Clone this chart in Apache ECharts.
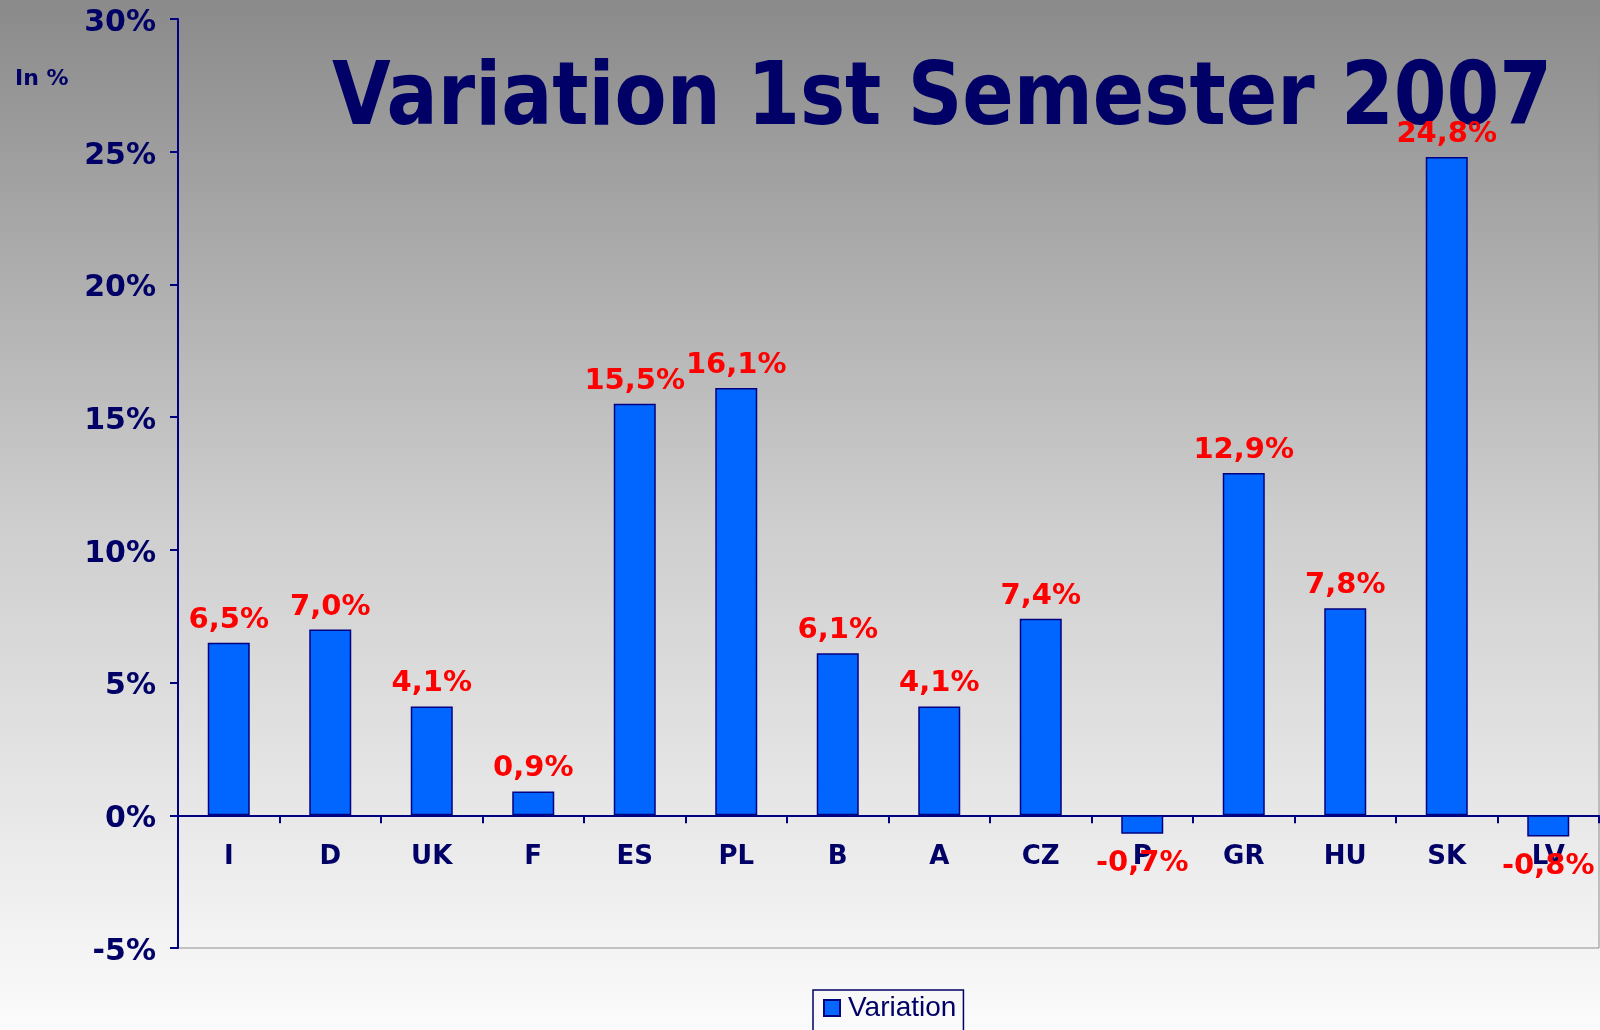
<!DOCTYPE html>
<html><head><meta charset="utf-8">
<script src="https://cdn.jsdelivr.net/npm/echarts@6/dist/echarts.min.js"></script>
<style>html,body{margin:0;padding:0;}#c{width:1600px;height:1030px;}</style>
</head><body><div id="c"></div>
<script>
const categories = ['I','D','UK','F','ES','PL','B','A','CZ','P','GR','HU','SK','LV'];
const variation = [6.5, 7.0, 4.1, 0.9, 15.5, 16.1, 6.1, 4.1, 7.4, -0.7, 12.9, 7.8, 24.8, -0.8];
const yTicks = [-5, 0, 5, 10, 15, 20, 25, 30];
const titleText = 'Variation 1st Semester 2007';
const unitText = 'In %';
const seriesName = 'Variation';

const NAVY = '#000066';
const GRID_TOP = 19, GRID_BOTTOM = 82, H = 1030;
const yMin = yTicks[0], yMax = yTicks[yTicks.length - 1];
// move the category axis up so it sits on the zero line
const zeroOffset = -(H - GRID_TOP - GRID_BOTTOM) * (0 - yMin) / (yMax - yMin);

const chart = echarts.init(document.getElementById('c'));
const fmt = v => v.toFixed(1).replace('.', ',') + '%';
chart.setOption({
  animation: false,
  backgroundColor: new echarts.graphic.LinearGradient(0, 0, 0, 1, [
    {offset: 0, color: '#8a8a8a'},
    {offset: 0.5, color: '#cdcdcd'},
    {offset: 1, color: '#fbfbfb'}
  ]),
  grid: {left: 178, right: 1, top: GRID_TOP, bottom: GRID_BOTTOM, show: true, borderColor: '#8f8f8f', borderWidth: 1, backgroundColor: 'transparent'},
  legend: {
    left: 813, top: 990, padding: [4, 7, 10, 10],
    borderColor: NAVY, borderWidth: 1.5,
    itemWidth: 16, itemHeight: 16, icon: 'rect',
    textStyle: {fontFamily: 'Liberation Sans, Arial', fontSize: 28, color: NAVY, padding: [0, 0, 0, 3]},
    data: [seriesName]
  },
  xAxis: {
    type: 'category', data: categories, position: 'bottom', offset: zeroOffset,
    axisLine: {onZero: false, lineStyle: {color: '#000080', width: 2}},
    axisTick: {show: true, length: 8, lineStyle: {color: '#000080', width: 2}},
    axisLabel: {margin: 29, fontFamily: 'DejaVu Sans', fontWeight: 'bold', fontSize: 26, color: NAVY}
  },
  yAxis: {
    type: 'value', min: yMin, max: yMax, interval: 5,
    splitLine: {show: false},
    axisLine: {show: true, lineStyle: {color: '#000080', width: 2}},
    axisTick: {show: true, length: 8, lineStyle: {color: '#000080', width: 2}},
    axisLabel: {margin: 22, fontFamily: 'DejaVu Sans', fontWeight: 'bold', fontSize: 30, color: NAVY,
      formatter: v => '{a|' + v + '%}',
      rich: {a: {fontFamily: 'DejaVu Sans', fontWeight: 'bold', fontSize: 30, color: NAVY, padding: [8, 0, 0, 0]}}}
  },
  series: [{
    name: seriesName, type: 'bar', barWidth: 42,
    itemStyle: {color: '#0066ff', borderColor: '#000080', borderWidth: 1.5},
    label: {show: true, position: 'top', distance: 8, fontFamily: 'DejaVu Sans', fontWeight: 'bold', fontSize: 29, color: '#ff0000',
      formatter: p => fmt(p.value)},
    data: variation.map(v => v < 0 ? {value: v, label: {position: 'bottom', distance: 15}} : v)
  }],
  graphic: [
    {type: 'text', left: 15, top: 68, style: {text: unitText, fontFamily: 'DejaVu Sans', fontWeight: 'bold', fontSize: 22, fill: NAVY}},
    {type: 'text', x: 332, y: 101, scaleX: 0.862, style: {text: titleText, fontFamily: 'DejaVu Sans', fontWeight: 'bold', fontSize: 88, fill: NAVY, verticalAlign: 'middle', align: 'left'}}
  ]
});
</script></body></html>
